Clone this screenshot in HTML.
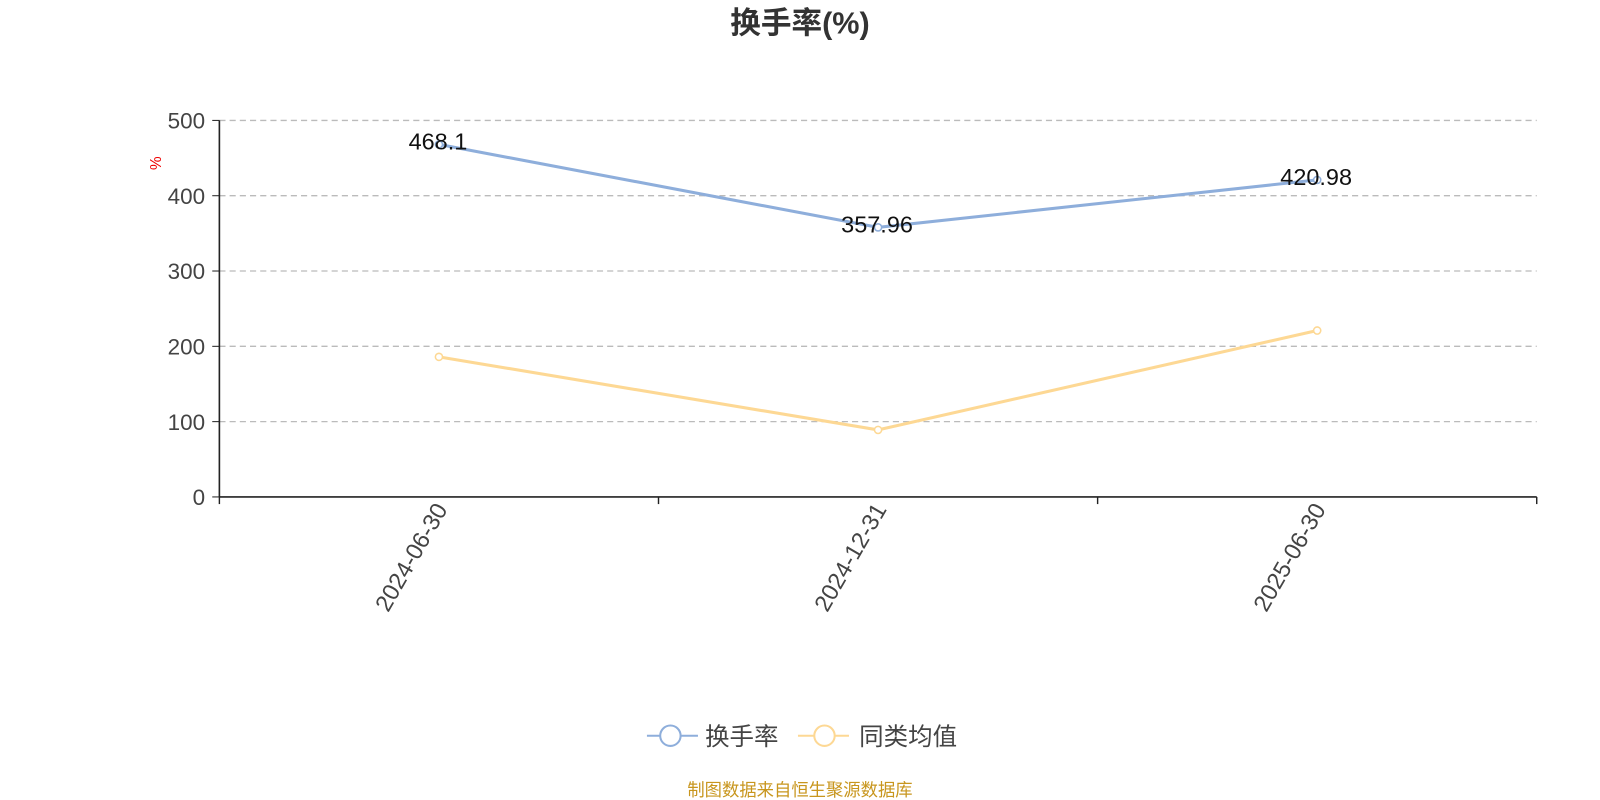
<!DOCTYPE html>
<html><head><meta charset="utf-8"><style>
html,body{margin:0;padding:0;background:#fff;width:1600px;height:800px;overflow:hidden}
svg{display:block;font-family:"Liberation Sans","Noto Sans CJK SC",sans-serif}
</style></head><body>
<svg id="chart" width="1600" height="800" viewBox="0 0 1568 784">
<text x="784" y="33" text-anchor="middle" font-size="30" font-weight="bold" fill="#333">换手率(%)</text>
<text x="0" y="0" transform="translate(158,160) rotate(-90)" text-anchor="middle" font-size="15" fill="#e00">%</text>
<g id="grid"></g><g id="axes"></g><g id="series"></g>
<g>
<g>
<line x1="634" y1="721" x2="684" y2="721" stroke="#8eaedb" stroke-width="2"/>
<circle cx="657" cy="721" r="10" fill="#fff" stroke="#8eaedb" stroke-width="2"/>
<text x="691" y="730" font-size="24" fill="#444">换手率</text></g>
<g>
<line x1="782" y1="721" x2="832" y2="721" stroke="#fdd894" stroke-width="2"/>
<circle cx="808" cy="721" r="10" fill="#fff" stroke="#fdd894" stroke-width="2"/>
<text x="842" y="730" font-size="24" fill="#444">同类均值</text></g>
</g>
<text x="784" y="780" text-anchor="middle" font-size="17" fill="#c8961e">制图数据来自恒生聚源数据库</text>
</svg>
<script>
const categories=["2024-06-30","2024-12-31","2025-06-30"];
const turnover=[468.1,357.96,420.98];
const peerAvg=[186,89,221];
const yTicks=[0,100,200,300,400,500];
const NS="http://www.w3.org/2000/svg";
const X0=215,X1=1506,Y0=487,Y1=118,YMAX=500;
const band=(X1-X0)/categories.length;
const xs=i=>X0+band*(i+0.5);
const ys=v=>Y0-(v/YMAX)*(Y0-Y1);
function mk(tag,attrs,parent){const e=document.createElementNS(NS,tag);for(const k in attrs)e.setAttribute(k,attrs[k]);parent.appendChild(e);return e;}
const grid=document.getElementById('grid'),axes=document.getElementById('axes'),series=document.getElementById('series');
yTicks.forEach(t=>{
 if(t>0){const g=mk('line',{x1:X0,x2:X1,y1:ys(t),y2:ys(t),stroke:'#bbb','stroke-width':1.3,'stroke-dasharray':'6,4'},grid);
 
 }
 const tk=mk('line',{x1:X0-7,x2:X0,y1:ys(t),y2:ys(t),stroke:'#222'},axes);
 
 
 const l=mk('text',{x:X0-14,y:ys(t)+8,'text-anchor':'end','font-size':22,fill:'#444'},axes);
 l.textContent=t;
 
 
});
const ya=mk('line',{x1:X0,x2:X0,y1:Y1,y2:Y0,stroke:'#222','stroke-width':1.6},axes);


const xa=mk('line',{x1:X0,x2:X1,y1:Y0,y2:Y0,stroke:'#222','stroke-width':1.6},axes);


for(let i=0;i<=categories.length;i++){
 const tk=mk('line',{x1:X0+band*i,x2:X0+band*i,y1:Y0,y2:Y0+7,stroke:'#222','stroke-width':1.4},axes);
 
 
}
categories.forEach((c,i)=>{
 const x=xs(i)+9,y=Y0+12;
 const l=mk('text',{x:x,y:y,transform:`rotate(-60 ${x} ${y})`,'text-anchor':'end','font-size':23,fill:'#444'},axes);
 l.textContent=c;
 
 
});
function drawSeries(vals,color,name,labels){
 const p=mk('polyline',{points:vals.map((v,i)=>xs(i)+','+ys(v)).join(' '),fill:'none',stroke:color,'stroke-width':3},series);
 
 
 vals.forEach((v,i)=>{
  const c=mk('circle',{cx:xs(i),cy:ys(v),r:3.5,fill:'#fff',stroke:color,'stroke-width':1.5},series);
  
  
  if(labels){
   const t=mk('text',{x:xs(i)-1,y:ys(v)+5,'text-anchor':'middle','font-size':23,fill:'#111'},series);
   t.textContent=v;
   
   
  }
 });
}
drawSeries(peerAvg,'#fdd894','peer-average',false);
drawSeries(turnover,'#8eaedb','turnover',true);
</script>
</body></html>
